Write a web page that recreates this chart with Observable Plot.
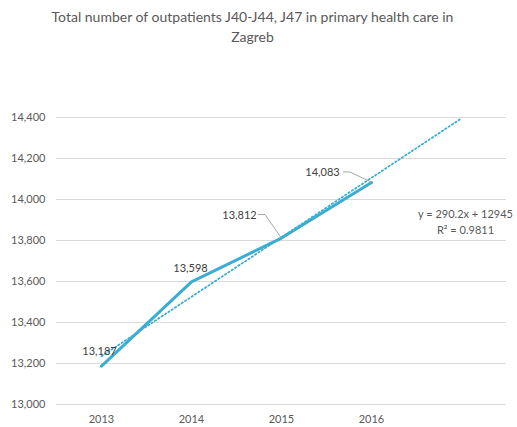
<!DOCTYPE html>
<html><head><meta charset="utf-8">
<script src="https://cdn.jsdelivr.net/npm/d3@7"></script>
<script src="https://cdn.jsdelivr.net/npm/@observablehq/plot@0.6"></script>
<style>
body{margin:0;background:#fff;font-family:Lato, sans-serif;}
#title{height:60px;box-sizing:border-box;padding-top:7px;text-align:center;font-size:14px;color:#595959;line-height:20px;width:505px;}
</style></head><body>
<div id="title">Total number of outpatients J40-J44, J47 in primary health care in<br>Zagreb</div>
<div id="chart"></div>
<script>
const years = [2013, 2014, 2015, 2016];
const outpatients = [13187, 13598, 13812, 14083];
const yTicks = [13000, 13200, 13400, 13600, 13800, 14000, 14200, 14400];
const trendSlope = 290.2;
const trendIntercept = 12945;
const trendX = [1, 5];
const equationLines = ["y = 290.2x + 12945", "R\u00b2 = 0.9811"];

const data = years.map((yr, i) => ({x: i + 1, year: yr, value: outpatients[i]}));
const trend = trendX.map(x => ({x, value: trendSlope * x + trendIntercept}));
const fmt = d3.format(",");
const blue = "#3badd1";

const labelMark = (yr, dx, dy) => Plot.text(data, {
  filter: d => d.year === yr, x: "x", y: "value", text: d => fmt(d.value),
  dx, dy, fill: "#404040", fontSize: 11
});

function leaders(index, scales) {
  const g = d3.create("svg:g").attr("fill", "none").attr("stroke", "#a6a6a6").attr("stroke-width", 1);
  const specs = [
    {year: 2015, pts: [[-23, -23], [-16, -23], [0, 0]]},
    {year: 2016, pts: [[-28, -10], [-21, -10], [0, 0]]}
  ];
  for (const s of specs) {
    const d = data.find(e => e.year === s.year);
    const px = scales.x(d.x), py = scales.y(d.value);
    g.append("path").attr("d", d3.line()(s.pts.map(([a, b]) => [px + a, py + b])));
  }
  return g.node();
}

const endPt = trend[trend.length - 1];
const chart = Plot.plot({
  width: 517, height: 367,
  marginLeft: 56, marginRight: 11, marginTop: 57, marginBottom: 23,
  style: {fontFamily: "Lato, sans-serif", fontSize: "11px", color: "#595959", background: "#fff"},
  x: {domain: [0.5, 5.5], ticks: [1, 2, 3, 4], tickFormat: i => String(years[i - 1]), tickSize: 0, tickPadding: 11, label: null},
  y: {domain: [13000, 14400], ticks: yTicks, tickFormat: d => fmt(d), tickSize: 0, tickPadding: 11, label: null},
  marks: [
    Plot.ruleY(yTicks, {stroke: "#d9d9d9", strokeWidth: 1}),
    Plot.line(trend, {x: "x", y: "value", stroke: blue, strokeWidth: 1.75, strokeDasharray: "1.5 2.5"}),
    Plot.line(data, {x: "x", y: "value", stroke: blue, strokeWidth: 3, strokeLinecap: "round", strokeLinejoin: "round"}),
    labelMark(2013, -2, -15),
    labelMark(2014, -1, -13),
    labelMark(2015, -42, -23),
    labelMark(2016, -49, -10),
    leaders,
    Plot.text([endPt], {x: "x", y: "value", text: () => equationLines[0], dx: 4, dy: 96, fill: "#595959", fontSize: 11}),
    Plot.text([endPt], {x: "x", y: "value", text: () => equationLines[1], dx: 4, dy: 112, fill: "#595959", fontSize: 11})
  ]
});
document.getElementById("chart").appendChild(chart);
</script></body></html>
